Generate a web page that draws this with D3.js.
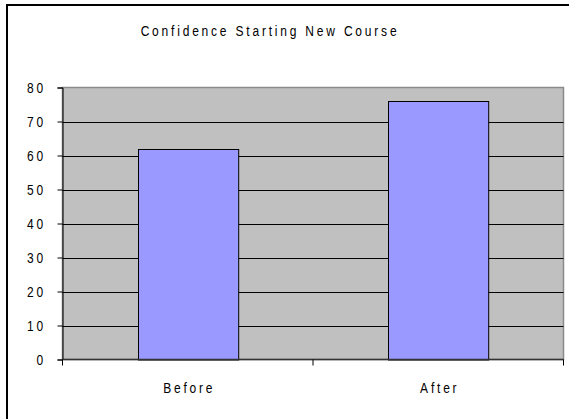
<!DOCTYPE html>
<html>
<head>
<meta charset="utf-8">
<script src="https://cdn.jsdelivr.net/npm/d3@7"></script>
<style>
  body { margin: 0; background: #fff; overflow: hidden; }
  svg { display: block; }
  svg text { font-family: "Liberation Sans", Arial, sans-serif; fill: #000; }
</style>
</head>
<body>
<div class="chart-container"></div>
<script>
'use strict';

var title = 'Confidence Starting New Course';
var categories = ['Before', 'After'];
var values = [62, 76];
var yTicks = [0, 10, 20, 30, 40, 50, 60, 70, 80];

var width = 569, height = 419;
var plot = { left: 62.5, right: 563.5, top: 87.5, bottom: 359.5 };
var squeeze = 0.8; // text in the original is a narrow face

var svg = d3.select('.chart-container').append('svg')
  .attr('width', width)
  .attr('height', height);

// narrow, letter-spaced text: scale x around the anchor point
function label(parent, px, py, str, anchor) {
  var t = parent.append('text')
    .attr('transform', 'translate(' + px + ',' + py + ') scale(' + squeeze + ',1)')
    .attr('text-anchor', anchor || 'middle')
    .style('font-size', '15px')
    .style('letter-spacing', '3.5px')
    .text(str);
  return t;
}

// outer chart frame: only left and top sides are inside the picture
svg.append('path')
  .attr('d', 'M7,' + height + 'V5H' + width)
  .attr('fill', 'none')
  .attr('stroke', '#000')
  .attr('stroke-width', 2);

label(svg, 270, 36, title);

var x = d3.scaleBand()
  .domain(categories)
  .range([plot.left, plot.right])
  .paddingInner(0.6)
  .paddingOuter(0.3);

var y = d3.scaleLinear()
  .domain([0, 80])
  .range([plot.bottom, plot.top]);

// plot area
svg.append('rect')
  .attr('x', plot.left).attr('y', plot.top)
  .attr('width', plot.right - plot.left)
  .attr('height', plot.bottom - plot.top)
  .attr('fill', '#c0c0c0')
  .attr('stroke', '#8a8a8a')
  .attr('stroke-width', 1.5);

// gridlines
svg.append('g')
  .selectAll('line')
  .data(yTicks.filter(function(d) { return d > 0 && d < 80; }))
  .enter()
  .append('line')
  .attr('x1', plot.left).attr('x2', plot.right)
  .attr('y1', function(d) { return Math.round(y(d)) + 0.5; })
  .attr('y2', function(d) { return Math.round(y(d)) + 0.5; })
  .attr('stroke', '#000')
  .attr('stroke-width', 1);

// bars
svg.append('g')
  .selectAll('rect')
  .data(values)
  .enter()
  .append('rect')
  .attr('x', function(d, i) { return Math.round(x(categories[i])) + 0.5; })
  .attr('y', function(d) { return Math.round(y(d)) + 0.5; })
  .attr('width', x.bandwidth())
  .attr('height', function(d) { return y(0) - Math.round(y(d)); })
  .attr('fill', '#9999ff')
  .attr('stroke', '#000')
  .attr('stroke-width', 1);

// y axis (labels drawn by hand so they can be squeezed)
var yAxis = svg.append('g')
  .attr('transform', 'translate(' + plot.left + ',0)')
  .call(d3.axisLeft(y).tickValues(yTicks).tickSize(5).tickFormat(''));
yAxis.select('.domain').attr('stroke', '#000');
yAxis.selectAll('.tick line').attr('stroke', '#000');
yTicks.forEach(function(d) {
  label(svg, 46, y(d) + 5.5, String(d), 'end');
});

// x axis: ticks sit on band boundaries
var xBounds = [plot.left, plot.left + (plot.right - plot.left) / 2, plot.right];
var xAxis = svg.append('g');
xAxis.append('line')
  .attr('x1', plot.left).attr('x2', plot.right)
  .attr('y1', plot.bottom).attr('y2', plot.bottom)
  .attr('stroke', '#333').attr('stroke-width', 1.5);
xAxis.selectAll('.xtick')
  .data(xBounds)
  .enter()
  .append('line')
  .attr('class', 'xtick')
  .attr('x1', function(d) { return d; }).attr('x2', function(d) { return d; })
  .attr('y1', plot.bottom).attr('y2', plot.bottom + 6)
  .attr('stroke', '#000');
categories.forEach(function(c) {
  label(xAxis, x(c) + x.bandwidth() / 2 + 1.5, 393, c);
});
</script>
</body>
</html>
